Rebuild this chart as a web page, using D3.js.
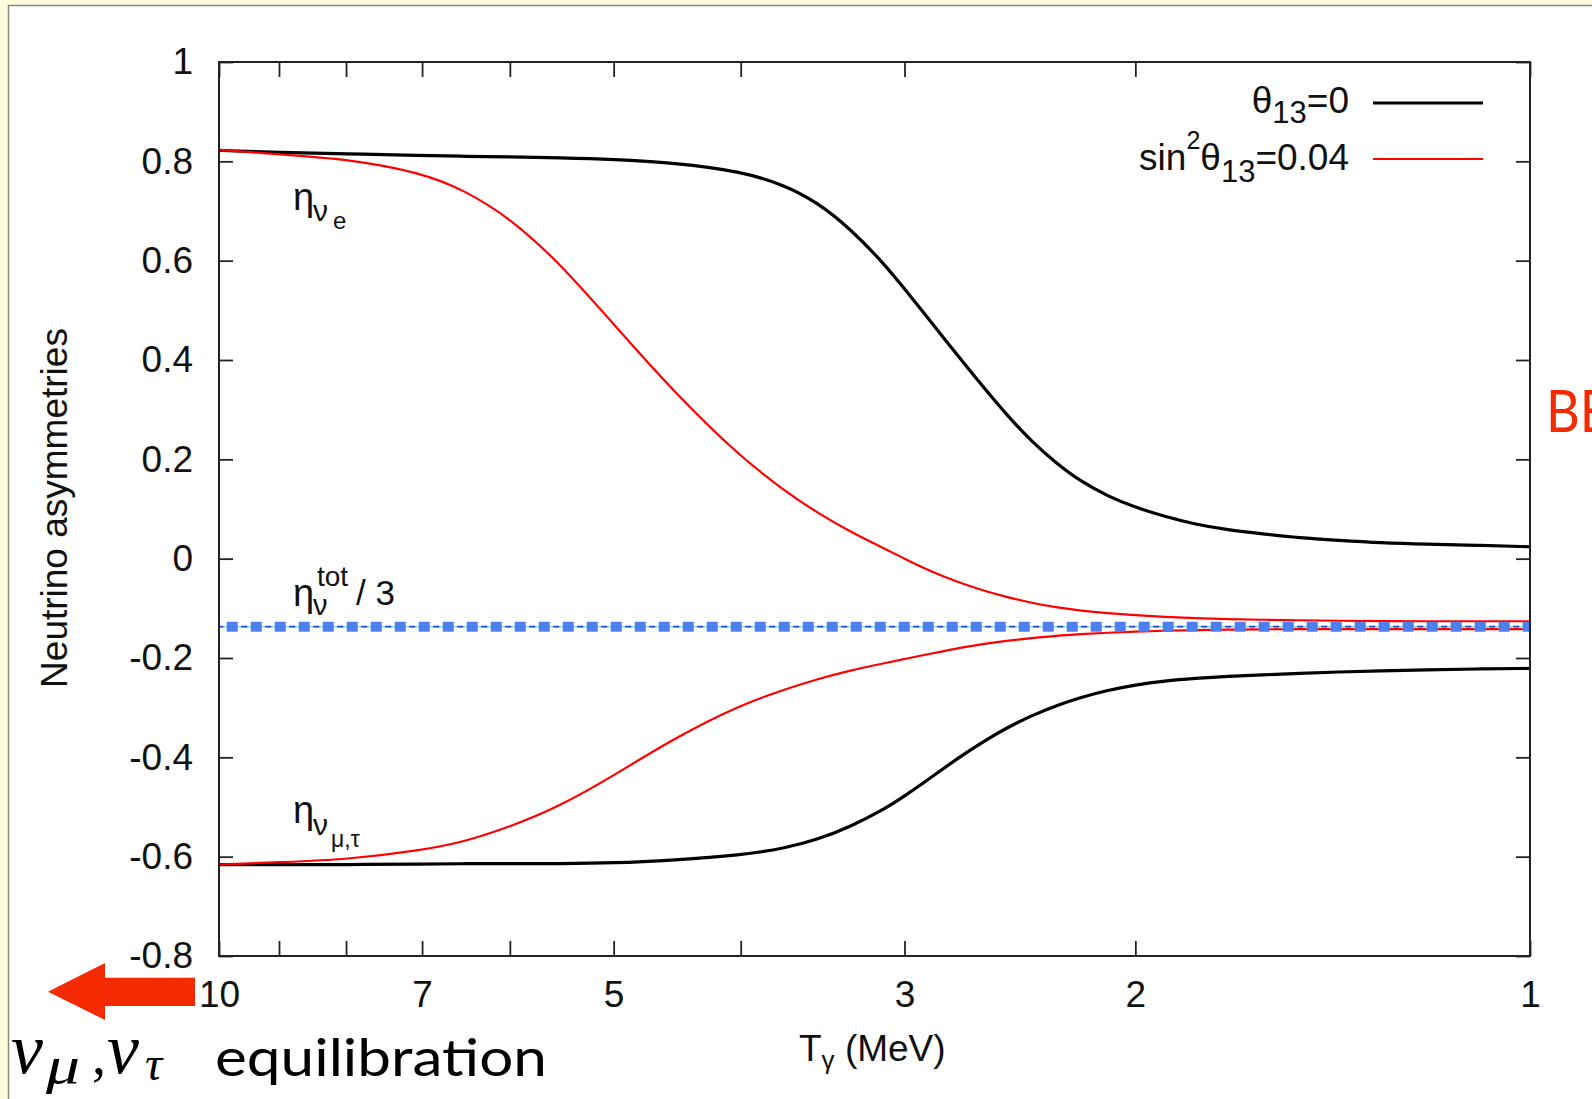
<!DOCTYPE html>
<html>
<head>
<meta charset="utf-8">
<script src="https://cdn.jsdelivr.net/npm/d3@7"></script>
<style>
    body { margin: 0; background: #fffbdc; overflow: hidden; }
    svg { display: block; font-family: "Liberation Sans", Arial, Helvetica, sans-serif; }
</style>
</head>
<body>
<svg id="graph1"></svg>
<script>
// photon temperature T (MeV)
const temps = [10, 9, 8, 7, 6.5, 6, 5.5, 5, 4.5, 4, 3.7, 3.5, 3.3, 3.1, 3, 2.9, 2.8, 2.7, 2.6, 2.5,
    2.4, 2.3, 2.2, 2.1, 2, 1.9, 1.8, 1.7, 1.6, 1.5, 1.4, 1.3, 1.2, 1.1, 1];

// eta_nu_e
const etaE_theta0 = [0.822, 0.818, 0.815, 0.812, 0.810, 0.809, 0.807, 0.804, 0.797, 0.780, 0.752, 0.718,
    0.665, 0.590, 0.543, 0.495, 0.444, 0.392, 0.339, 0.286, 0.236, 0.193, 0.155, 0.126, 0.103, 0.085,
    0.069, 0.058, 0.050, 0.042, 0.037, 0.032, 0.029, 0.027, 0.024];
const etaE_sin = [0.823, 0.814, 0.805, 0.777, 0.742, 0.686, 0.596, 0.472, 0.336, 0.204, 0.136, 0.093,
    0.054, 0.019, 0.000, -0.019, -0.036, -0.052, -0.066, -0.078, -0.089, -0.098, -0.105, -0.110, -0.114,
    -0.117, -0.120, -0.122, -0.123, -0.124, -0.125, -0.126, -0.126, -0.126, -0.126];

// eta_nu_mu,tau
const etaMu_theta0 = [-0.616, -0.616, -0.616, -0.615, -0.614, -0.614, -0.614, -0.613, -0.607, -0.597,
    -0.583, -0.566, -0.540, -0.503, -0.478, -0.451, -0.422, -0.393, -0.365, -0.339, -0.316, -0.296,
    -0.279, -0.265, -0.254, -0.246, -0.241, -0.237, -0.234, -0.231, -0.228, -0.226, -0.224, -0.222, -0.221];
const etaMu_sin = [-0.616, -0.611, -0.606, -0.587, -0.570, -0.540, -0.499, -0.437, -0.362, -0.294,
    -0.263, -0.243, -0.225, -0.210, -0.202, -0.194, -0.186, -0.178, -0.171, -0.165, -0.160, -0.155,
    -0.152, -0.149, -0.147, -0.145, -0.144, -0.143, -0.142, -0.142, -0.142, -0.142, -0.142, -0.142, -0.142];

// eta_tot / 3 (constant)
const etaTot3 = -0.137;

// axis ticks
const xTicks = [10, 9, 8, 7, 6, 5, 4, 3, 2, 1];
const xLabels = [10, 7, 5, 3, 2, 1];
const yTicks = [-0.8, -0.6, -0.4, -0.2, 0, 0.2, 0.4, 0.6, 0.8, 1];

function drawChart(svg_id, width, height) {
    const svg = d3.select(svg_id)
        .attr("width", width)
        .attr("height", height)
        .attr("viewBox", [0, 0, width, height]);

    // slide background + white panel
    svg.append("rect").attr("width", width).attr("height", height).attr("fill", "#fffbdc");
    svg.append("rect")
        .attr("x", 8.5).attr("y", 5.5)
        .attr("width", width).attr("height", height)
        .attr("fill", "white").attr("stroke", "#8a8a80").attr("stroke-width", 1.5);

    // scales
    const x_scale = d3.scaleLog().domain([10, 1]).range([219, 1530]);
    const y_scale = d3.scaleLinear().domain([-0.8, 1]).range([956, 62]);
    const [x0, x1] = x_scale.range();
    const [yb, yt] = y_scale.range();

    const line = d3.line()
        .x(d => x_scale(d[0]))
        .y(d => y_scale(d[1]))
        .curve(d3.curveBasis);

    const series = [
        { vals: etaE_theta0, color: "#000", w: 3.2 },
        { vals: etaMu_theta0, color: "#000", w: 3.2 },
        { vals: etaE_sin, color: "#f00", w: 2.2 },
        { vals: etaMu_sin, color: "#f00", w: 2.2 },
    ];
    series.forEach(s => {
        svg.append("path")
            .datum(temps.map((t, i) => [t, s.vals[i]]))
            .attr("d", line)
            .attr("fill", "none")
            .attr("stroke", s.color)
            .attr("stroke-width", s.w);
    });

    // eta_tot/3 dotted line
    const totData = [[10, etaTot3], [1, etaTot3]];
    const straight = d3.line().x(d => x_scale(d[0])).y(d => y_scale(d[1]));
    svg.append("path").datum(totData).attr("d", straight)
        .attr("stroke", "#6fd3c9").attr("stroke-width", 1.2).attr("fill", "none");
    svg.append("path").datum(totData).attr("d", straight)
        .attr("stroke", "#1f3fd0").attr("stroke-width", 1.8).attr("fill", "none")
        .attr("stroke-dasharray", "6 18").attr("stroke-dashoffset", 1.8);
    svg.append("path").datum(totData).attr("d", straight)
        .attr("stroke", "#4d7ff0").attr("stroke-width", 10).attr("fill", "none")
        .attr("stroke-dasharray", "11 13").attr("stroke-dashoffset", 16.3);

    // axes (ticks inside, mirrored on all sides)
    const styleAxis = g => {
        g.select(".domain").remove();
        g.selectAll("line").attr("stroke", "#222").attr("stroke-width", 1.8);
        g.selectAll("text").attr("fill", "#111").style("font-size", "37px")
            .style("font-family", "'Liberation Sans', Arial, sans-serif");
    };
    svg.append("g").attr("transform", `translate(0, ${yb})`)
        .call(d3.axisBottom(x_scale).tickValues(xTicks).tickSize(-15).tickPadding(25)
            .tickFormat(d => xLabels.includes(d) ? String(d) : ""))
        .call(styleAxis);
    svg.append("g").attr("transform", `translate(0, ${yt})`)
        .call(d3.axisTop(x_scale).tickValues(xTicks).tickSize(-15).tickFormat(""))
        .call(styleAxis);
    svg.append("g").attr("transform", `translate(${x0}, 0)`)
        .call(d3.axisLeft(y_scale).tickValues(yTicks).tickSize(-14).tickPadding(26)
            .tickFormat(d => String(+d.toFixed(1))))
        .call(styleAxis);
    svg.append("g").attr("transform", `translate(${x1}, 0)`)
        .call(d3.axisRight(y_scale).tickValues(yTicks).tickSize(-14).tickFormat(""))
        .call(styleAxis);

    // frame
    svg.append("rect")
        .attr("x", x0).attr("y", yt)
        .attr("width", x1 - x0).attr("height", yb - yt)
        .attr("fill", "none").attr("stroke", "#222").attr("stroke-width", 2);

    // axis titles
    svg.append("text")
        .attr("transform", "translate(67, 508) rotate(-90)")
        .attr("text-anchor", "middle")
        .attr("fill", "#111")
        .style("font-size", "37px")
        .text("Neutrino asymmetries");

    const xt = svg.append("text").attr("x", 799).attr("y", 1061)
        .attr("fill", "#111").style("font-size", "37px");
    xt.append("tspan").text("T");
    xt.append("tspan").attr("dy", 8).style("font-size", "26px").text("γ");
    xt.append("tspan").attr("dy", -8).text(" (MeV)");

    // legend
    const lg = svg.append("g").attr("fill", "#111");
    const l1 = lg.append("text").attr("x", 1349).attr("y", 113)
        .attr("text-anchor", "end").style("font-size", "37px");
    l1.append("tspan").text("θ");
    l1.append("tspan").attr("dy", 10).style("font-size", "31px").text("13");
    l1.append("tspan").attr("dy", -10).text("=0");
    const l2 = lg.append("text").attr("x", 1349).attr("y", 170)
        .attr("text-anchor", "end").style("font-size", "37px");
    l2.append("tspan").text("sin");
    l2.append("tspan").attr("dy", -21).style("font-size", "25px").text("2");
    l2.append("tspan").attr("dy", 21).text("θ");
    l2.append("tspan").attr("dy", 12).style("font-size", "31px").text("13");
    l2.append("tspan").attr("dy", -12).text("=0.04");
    [{ y: 103, color: "#000", w: 3.2 }, { y: 159, color: "#f00", w: 2.2 }].forEach(d => {
        lg.append("line")
            .attr("x1", 1373).attr("x2", 1483)
            .attr("y1", d.y).attr("y2", d.y)
            .attr("stroke", d.color).attr("stroke-width", d.w);
    });

    // curve annotations
    const ann = svg.append("g").attr("fill", "#111");
    const addText = (x, y, size, txt) =>
        ann.append("text").attr("x", x).attr("y", y).style("font-size", size + "px").text(txt);
    addText(293, 210, 38, "η");
    addText(313, 221, 30, "ν");
    addText(333, 229, 24, "e");

    addText(293, 606, 38, "η");
    addText(313, 615, 29, "ν");
    addText(317, 586, 28, "tot");
    addText(356, 605, 35, "/ 3");

    addText(293, 823, 38, "η");
    addText(313, 835, 30, "ν");
    addText(331, 847, 23, "μ,τ");

    // slide overlay: arrow + notes
    const red = "#f52a00";
    svg.append("path")
        .attr("d", "M48,991.7 L105,963 L105,977.7 L195,977.7 L195,1006 L105,1006 L105,1020 Z")
        .attr("fill", red);

    svg.append("text").attr("x", 1546).attr("y", 432)
        .attr("fill", red)
        .attr("textLength", 64).attr("lengthAdjust", "spacingAndGlyphs")
        .style("font-family", "'Comic Sans MS', Lato, 'Open Sans', sans-serif")
        .style("font-size", "58px")
        .text("BE");

    const math = svg.append("g").attr("fill", "#000")
        .style("font-family", "'Liberation Serif', 'DejaVu Serif', serif")
        .style("font-style", "italic");
    math.append("text").attr("x", 11).attr("y", 1073).style("font-size", "72px").text("ν");
    math.append("text").attr("x", 46).attr("y", 1083)
        .attr("textLength", 34).attr("lengthAdjust", "spacingAndGlyphs")
        .style("font-size", "52px").text("μ");
    math.append("text").attr("x", 92).attr("y", 1074).style("font-size", "56px").style("font-style", "normal").text(",");
    math.append("text").attr("x", 107).attr("y", 1073).style("font-size", "72px").text("ν");
    math.append("text").attr("x", 145).attr("y", 1080).style("font-size", "48px").text("τ");

    svg.append("text").attr("x", 215).attr("y", 1076)
        .attr("fill", "#000")
        .attr("textLength", 332).attr("lengthAdjust", "spacingAndGlyphs")
        .style("font-family", "'Comic Sans MS', Lato, 'Open Sans', sans-serif")
        .style("font-size", "53px")
        .text("equilibration");
}

drawChart("#graph1", 1592, 1099);
</script>
</body>
</html>
